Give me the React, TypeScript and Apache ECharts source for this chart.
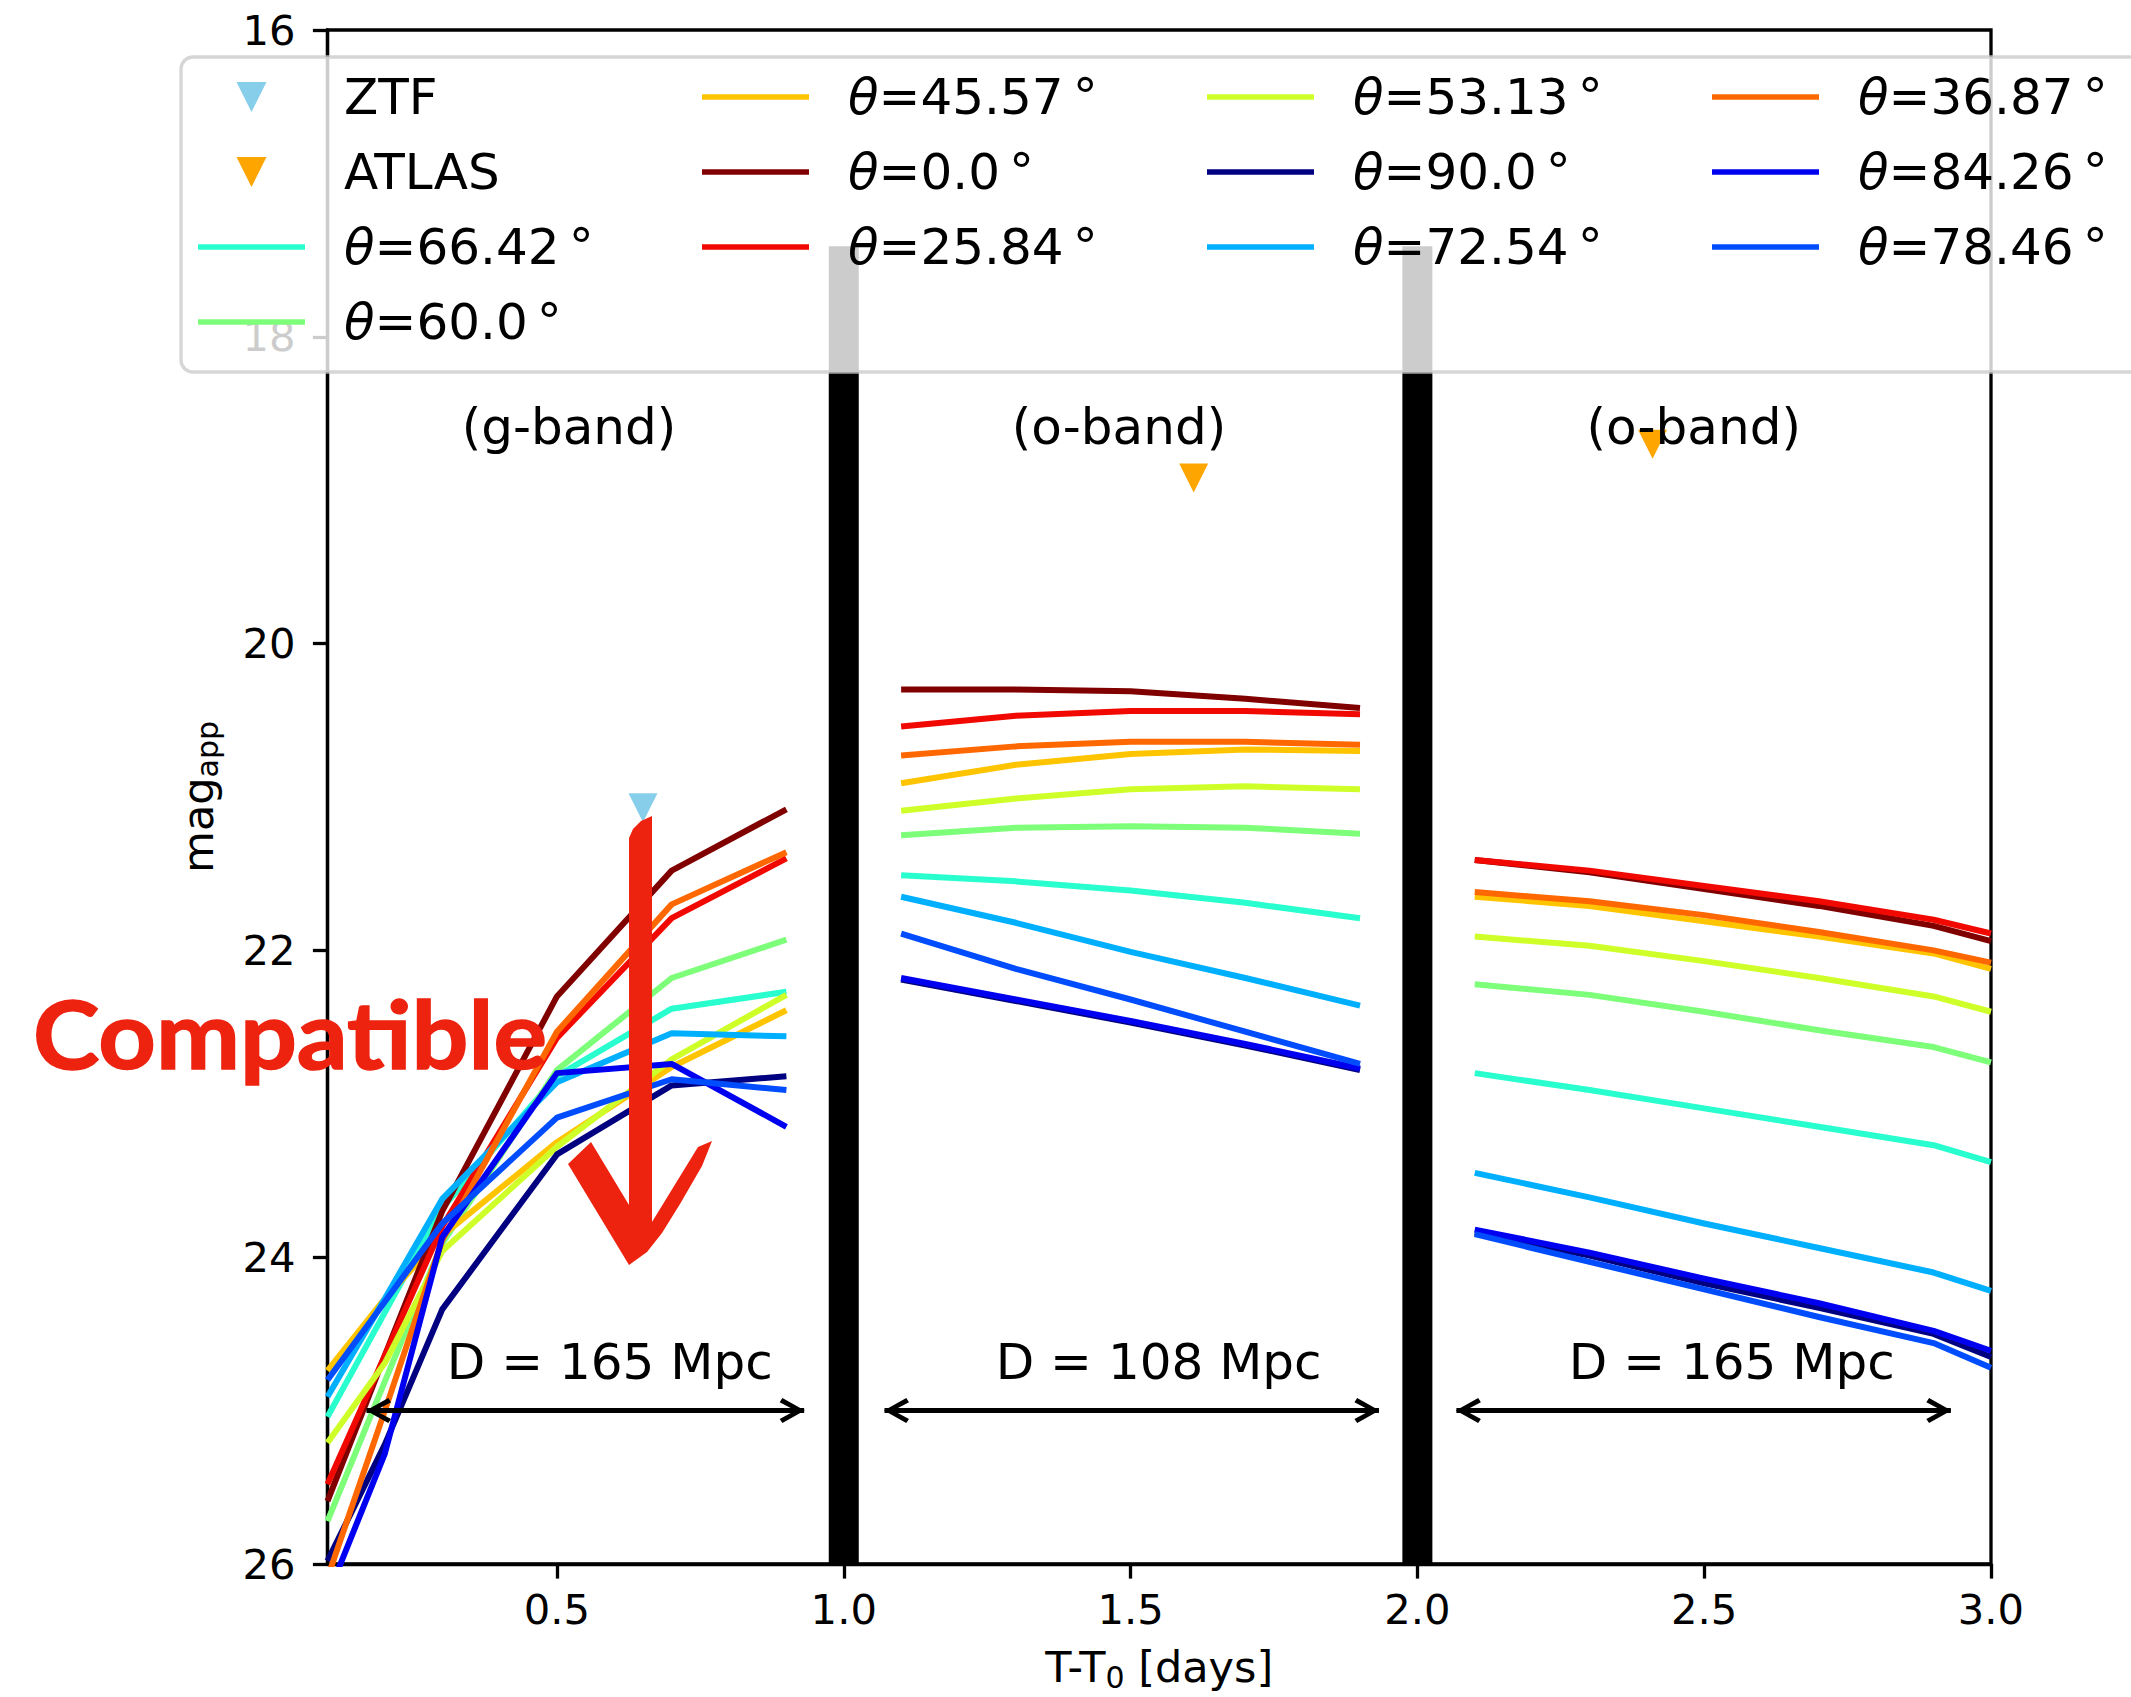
import React, { useEffect, useRef } from "react";
import * as echarts from "echarts";

// ---------------- data ----------------
const thetaLabels = ["66.42", "60.0", "45.57", "0.0", "25.84", "53.13", "90.0", "72.54", "36.87", "84.26", "78.46"];
const lineColors = ["#29FFCE", "#7DFF7A", "#FFC400", "#800000", "#F10800", "#CEFF29", "#000080", "#00B0FF", "#FF6800", "#0000F1", "#004CFF"];

// g-band (D = 165 Mpc)
const gX = [0.1, 0.2, 0.3, 0.5, 0.7, 0.9];
const gBand = [
  [25.04, 24.36, 23.68, 22.82, 22.38, 22.27],
  [25.72, 24.81, 23.91, 22.78, 22.18, 21.93],
  [24.74, 24.27, 23.86, 23.25, 22.76, 22.39],
  [25.59, 24.64, 23.7, 22.3, 21.48, 21.08],
  [25.48, 24.64, 23.8, 22.57, 21.79, 21.4],
  [25.21, 24.69, 23.96, 23.28, 22.71, 22.29],
  [25.98, 25.22, 24.34, 23.33, 22.88, 22.82],
  [24.91, 24.27, 23.62, 22.86, 22.54, 22.56],
  [26.09, 25.0, 23.89, 22.53, 21.7, 21.36],
  [26.21, 25.28, 23.87, 22.8, 22.74, 23.15],
  [24.8, 24.29, 23.78, 23.09, 22.84, 22.91],
];

// o-band (D = 108 Mpc)
const oX = [1.1, 1.3, 1.5, 1.7, 1.9];
const oBand = [
  [21.51, 21.55, 21.61, 21.69, 21.79],
  [21.25, 21.2, 21.19, 21.2, 21.24],
  [20.91, 20.79, 20.72, 20.69, 20.7],
  [20.3, 20.3, 20.31, 20.36, 20.42],
  [20.54, 20.47, 20.44, 20.44, 20.46],
  [21.09, 21.01, 20.95, 20.93, 20.95],
  [22.19, 22.33, 22.47, 22.62, 22.78],
  [21.65, 21.82, 22.01, 22.18, 22.36],
  [20.73, 20.67, 20.64, 20.64, 20.66],
  [22.18, 22.32, 22.46, 22.61, 22.77],
  [21.89, 22.12, 22.32, 22.53, 22.74],
];

// o-band (D = 165 Mpc)
const o2X = [2.1, 2.3, 2.5, 2.7, 2.9, 3.0];
const o2Band = [
  [22.8, 22.91, 23.03, 23.15, 23.27, 23.38],
  [22.22, 22.29, 22.4, 22.52, 22.63, 22.73],
  [21.65, 21.71, 21.81, 21.91, 22.02, 22.12],
  [21.41, 21.49, 21.6, 21.71, 21.84, 21.94],
  [21.41, 21.48, 21.58, 21.68, 21.8, 21.89],
  [21.91, 21.97, 22.07, 22.18, 22.3, 22.4],
  [23.84, 23.99, 24.17, 24.33, 24.5, 24.65],
  [23.45, 23.61, 23.78, 23.94, 24.1, 24.22],
  [21.62, 21.68, 21.77, 21.88, 22.0, 22.08],
  [23.82, 23.97, 24.14, 24.3, 24.48, 24.61],
  [23.85, 24.03, 24.21, 24.39, 24.56, 24.72],
];

const ztfX = [0.65];
const ztfY = [21.07];
const atlasX = [1.61, 2.41];
const atlasY = [18.92, 18.7];

const separatorX = [1.0, 2.0];
const separatorTop = 17.41;
const separatorBottom = 26;

const bandLabels = ["(g-band)", "(o-band)", "(o-band)"];
const bandLabelX = [0.333, 1.292, 2.294];
const bandLabelY = 18.59;

const distLabels = ["D = 165 Mpc", "D = 108 Mpc", "D = 165 Mpc"];
const distLabelX = [0.307, 1.264, 2.263];
const distLabelY = 24.68;

const arrowFrom = [0.168, 1.071, 2.068];
const arrowTo = [0.931, 1.933, 2.93];
const arrowY = 25.0;

const xTicks = [0.5, 1.0, 1.5, 2.0, 2.5, 3.0];

const legendColumns = [
  ["ZTF", "ATLAS", "θ=66.42°", "θ=60.0°"],
  ["θ=45.57°", "θ=0.0°", "θ=25.84°"],
  ["θ=53.13°", "θ=90.0°", "θ=72.54°"],
  ["θ=36.87°", "θ=84.26°", "θ=78.46°"],
];

// ---------------- styling / layout ----------------
const FONT = "DejaVu Sans";
const W = 2131;
const H = 1697;
const GRID = { left: 327.5, top: 30, width: 1663.5, height: 1537 };
const legendColLeft = [198, 702, 1207, 1712];
const legendRowCenter = [98, 173, 248, 323];
const LEGEND_TOP_SHIFT = -26;
const RED = "#ED2310";
const LINE_W = 6;

const TRI_PATH = "path://M0,0 L20,0 L10,20 Z";
const LINE_PATH = "path://M0,0 L100,0 L100,5 L0,5 Z";
const LEFT_HEAD = "path://M0,12 L20.5,0 L23,4 L8.5,12 L23,20 L20.5,24 Z";
const RIGHT_HEAD = "path://M24,12 L3.5,0 L1,4 L15.5,12 L1,20 L3.5,24 Z";

const arrowPoly = [
  [629, 838], [633, 829], [641, 821], [652, 816], [652, 1222], [698, 1147], [712, 1141],
  [702, 1166], [680, 1204], [662, 1233], [647, 1252], [629, 1265], [568, 1164], [591, 1142], [629, 1205],
];

function seriesName(t: string) {
  return "θ=" + t + "°";
}

function legendFormatter(name: string) {
  if (name.startsWith("θ")) {
    return "{g|}{i|θ}{t|" + name.slice(1, -1) + "}{d|°}";
  }
  return "{g|}{t|" + name + "}";
}

function buildOption() {
  const series: any[] = [];

  thetaLabels.forEach((t, k) => {
    const data: any[] = [];
    gX.forEach((x, i) => data.push([x, gBand[k][i]]));
    data.push([1.0, "-"]);
    oX.forEach((x, i) => data.push([x, oBand[k][i]]));
    data.push([2.0, "-"]);
    o2X.forEach((x, i) => data.push([x, o2Band[k][i]]));
    series.push({
      type: "line",
      name: seriesName(t),
      color: lineColors[k],
      data,
      symbol: "none",
      showSymbol: false,
      connectNulls: false,
      clip: true,
      lineStyle: { width: LINE_W, color: lineColors[k], join: "round", cap: "butt" },
      itemStyle: { color: lineColors[k], borderWidth: 0 },
      z: 2,
      silent: true,
    });
  });

  series.push({
    type: "scatter",
    name: "ZTF",
    color: "#87CEEB",
    data: ztfX.map((x, i) => [x, ztfY[i]]),
    symbol: "triangle",
    symbolRotate: 180,
    symbolSize: 29,
    itemStyle: { color: "#87CEEB", borderWidth: 0, opacity: 1 },
    z: 3,
    silent: true,
  });
  series.push({
    type: "scatter",
    name: "ATLAS",
    color: "#FFA500",
    data: atlasX.map((x, i) => [x, atlasY[i]]),
    symbol: "triangle",
    symbolRotate: 180,
    symbolSize: 29,
    itemStyle: { color: "#FFA500", borderWidth: 0, opacity: 1 },
    z: 3,
    silent: true,
  });

  // separators
  const sepData: any[] = [];
  separatorX.forEach((x, i) => {
    if (i > 0) sepData.push([x - 0.5, "-"]);
    sepData.push([x, separatorTop]);
    sepData.push([x, separatorBottom]);
  });
  series.push({
    type: "line",
    name: "separator",
    data: sepData,
    symbol: "none",
    lineStyle: { width: 30, color: "#000", cap: "butt" },
    z: 2,
    silent: true,
  });

  // distance arrows (shafts)
  const shaftData: any[] = [];
  arrowFrom.forEach((x, i) => {
    if (i > 0) shaftData.push([x - 0.05, "-"]);
    shaftData.push([x, arrowY]);
    shaftData.push([arrowTo[i], arrowY]);
  });
  series.push({
    type: "line",
    name: "arrows",
    data: shaftData,
    symbol: "none",
    lineStyle: { width: 5, color: "#000", cap: "butt" },
    z: 4,
    silent: true,
  });
  // arrow heads
  const headData: any[] = [];
  arrowFrom.forEach((x, i) => {
    headData.push({ value: [x, arrowY], symbol: LEFT_HEAD, symbolOffset: [12, 0] });
    headData.push({ value: [arrowTo[i], arrowY], symbol: RIGHT_HEAD, symbolOffset: [-12, 0] });
  });
  series.push({
    type: "scatter",
    name: "arrowHeads",
    data: headData,
    symbolSize: [25, 25],
    itemStyle: { color: "#000", borderWidth: 0, opacity: 1 },
    z: 4,
    silent: true,
  });

  // text annotations
  const textStyle = { show: true, position: "right", distance: 0, fontSize: 50, fontFamily: FONT, color: "#000", opacity: 1 };
  series.push({
    type: "scatter",
    name: "bandLabels",
    data: bandLabels.map((s, i) => ({ name: s, value: [bandLabelX[i], bandLabelY] })),
    symbolSize: 1,
    itemStyle: { color: "rgba(0,0,0,0)", opacity: 1 },
    label: { ...textStyle, formatter: "{b}" },
    z: 4,
    silent: true,
  });
  series.push({
    type: "scatter",
    name: "distLabels",
    data: distLabels.map((s, i) => ({ name: s, value: [distLabelX[i], distLabelY] })),
    symbolSize: 1,
    itemStyle: { color: "rgba(0,0,0,0)", opacity: 1 },
    label: { ...textStyle, formatter: "{b}" },
    z: 4,
    silent: true,
  });

  // legends: one per entry, laid out like matplotlib's 4-column legend
  const legends: any[] = [];
  legendColumns.forEach((col, c) => {
    col.forEach((name, r) => {
      const isMarker = name === "ZTF" || name === "ATLAS";
      legends.push({
        data: [name],
        left: legendColLeft[c] + (isMarker ? 38.5 : 0),
        top: legendRowCenter[r] + LEGEND_TOP_SHIFT,
        orient: "vertical",
        padding: 0,
        itemWidth: 107,
        itemHeight: 30,
        icon: isMarker ? TRI_PATH : LINE_PATH,
        symbolKeepAspect: true,
        selectedMode: false,
        itemStyle: { borderWidth: 0, opacity: 1 },
        formatter: legendFormatter,
        z: 5,
        textStyle: {
          fontSize: 50,
          fontFamily: FONT,
          color: "#000",
          lineHeight: 30,
          rich: {
            g: { width: 34, lineHeight: 30 },
            i: { fontSize: 50, fontFamily: FONT, fontStyle: "italic", color: "#000", lineHeight: 30 },
            t: { fontSize: 50, fontFamily: FONT, color: "#000", lineHeight: 30 },
            d: { fontSize: 50, fontFamily: FONT, color: "#000", lineHeight: 30, padding: [0, 0, 0, 9] },
          },
        },
      });
    });
  });

  const axisFont = { fontSize: 41.7, fontFamily: FONT, color: "#000" };
  const nameFont = { fontSize: 43, fontFamily: FONT, color: "#000" };

  return {
    animation: false,
    backgroundColor: "#fff",
    textStyle: { fontFamily: FONT },
    grid: { ...GRID, show: true, borderColor: "#000", borderWidth: 3.3, backgroundColor: "transparent" },
    xAxis: {
      type: "value",
      min: 0.1,
      max: 3.0,
      axisLine: { show: true, lineStyle: { color: "#000", width: 3.3 } },
      axisTick: { show: true, customValues: xTicks, length: 14.6, lineStyle: { color: "#000", width: 3.3 } },
      axisLabel: { ...axisFont, customValues: xTicks, margin: 24, formatter: (v: number) => v.toFixed(1) },
      splitLine: { show: false },
      name: "T-T{sub|0} [days]",
      nameLocation: "middle",
      nameGap: 78,
      nameTextStyle: {
        ...nameFont,
        lineHeight: 50,
        rich: { sub: { fontSize: 30, fontFamily: FONT, color: "#000", lineHeight: 24, verticalAlign: "bottom" } },
      },
    },
    yAxis: {
      type: "value",
      inverse: true,
      min: 16,
      max: 26,
      interval: 2,
      axisLine: { show: true, lineStyle: { color: "#000", width: 3.3 } },
      axisTick: { show: true, length: 14.6, lineStyle: { color: "#000", width: 3.3 } },
      axisLabel: { ...axisFont, margin: 32 },
      splitLine: { show: false },
      name: "mag{sub|app}",
      nameLocation: "middle",
      nameRotate: 90,
      nameGap: 105,
      nameTextStyle: {
        ...nameFont,
        lineHeight: 50,
        rich: { sub: { fontSize: 30, fontFamily: FONT, color: "#000", lineHeight: 24, verticalAlign: "bottom" } },
      },
    },
    legend: legends,
    graphic: {
      elements: [
        {
          type: "rect",
          shape: { x: 181, y: 57, width: 2100, height: 315, r: 12 },
          style: { fill: "rgba(255,255,255,0.8)", stroke: "rgba(204,204,204,0.8)", lineWidth: 3.3 },
          z: 3,
          silent: true,
        },
        {
          type: "polygon",
          shape: { points: arrowPoly },
          style: { fill: RED },
          z: 10,
          silent: true,
        },
        {
          type: "text",
          x: 33,
          y: 1033,
          scaleX: 1.067,
          style: {
            text: "Compatible",
            fontSize: 94,
            fontWeight: "bold",
            fontFamily: "Lato",
            fill: RED,
            stroke: RED,
            lineWidth: 1.5,
            textAlign: "left",
            textVerticalAlign: "middle",
          },
          z: 10,
          silent: true,
        },
      ],
    },
    series,
  };
}

export default function App() {
  const ref = useRef<HTMLDivElement>(null);
  useEffect(() => {
    document.body.style.margin = "0";
    document.body.style.overflow = "hidden";
    if (!ref.current) return;
    const chart = echarts.init(ref.current, null, { renderer: "svg", width: W, height: H });
    chart.setOption(buildOption() as any);
    return () => {
      chart.dispose();
    };
  }, []);
  return <div ref={ref} style={{ width: W, height: H }} />;
}
